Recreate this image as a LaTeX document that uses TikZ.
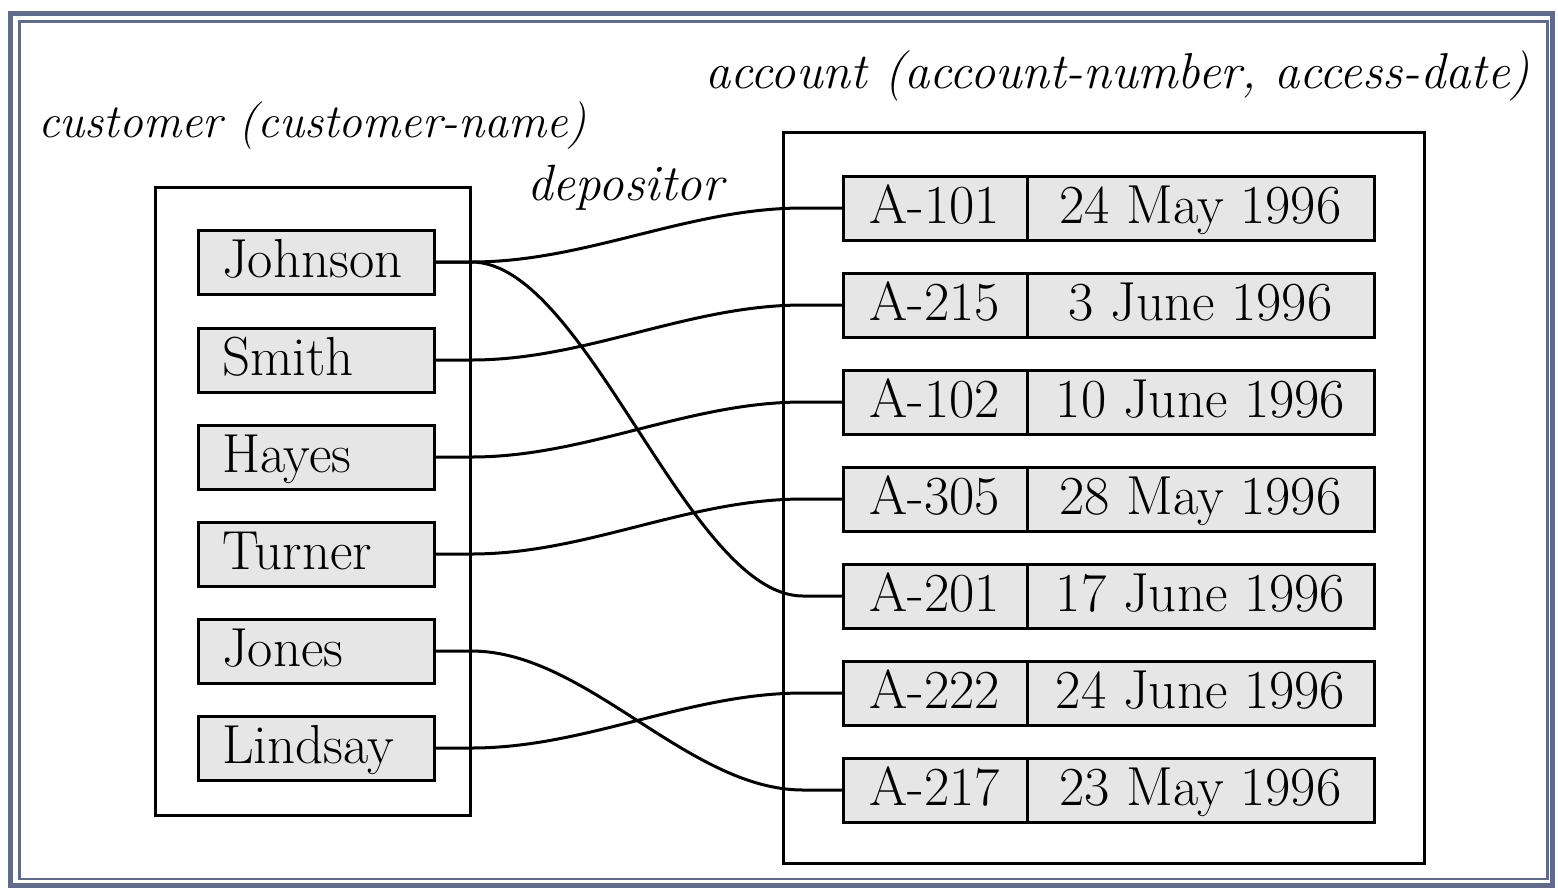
\documentclass[tikz,border=0pt]{standalone}
\usepackage{fontspec}
\usetikzlibrary{calc}
\definecolor{framec}{HTML}{626A8C}
\definecolor{boxfill}{HTML}{E6E6E6}
\begin{document}
\begin{tikzpicture}[x=0.5pt,y=-0.5pt,
  txt/.style={font=\fontsize{27.5}{30}\selectfont},
  namebox/.style={txt, draw, line width=1.5pt, fill=boxfill, minimum width=118pt,
    minimum height=32pt, inner xsep=12pt, inner ysep=0pt, text width=94pt, align=left,
    text height=19pt, text depth=4pt},
  cellbox/.style={txt, draw, line width=1.5pt, fill=boxfill, minimum height=32pt,
    inner sep=0pt, outer sep=0pt, text height=19pt, text depth=4pt},
  acell/.style={cellbox, minimum width=92pt},
  dcell/.style={cellbox, minimum width=173.5pt, anchor=west},
  outerbox/.style={draw, line width=1.5pt, inner sep=0pt},
  lbl/.style={inner sep=0pt, anchor=base west},
  conn/.style={line width=1.5pt}
]
\useasboundingbox (0,0) rectangle (1558,891);
% frame
\draw[framec, line width=2.5pt] (10,13.5) rectangle (1552.5,885);
\draw[framec, line width=1.25pt] (19.5,21.5) rectangle (1547.5,879);

% outer boxes
\node[outerbox, minimum width=157.5pt, minimum height=314pt] (custbox) at (312.5,501) {};
\node[outerbox, minimum width=320.5pt, minimum height=365.5pt] (accbox) at (1103.5,497.5) {};

% labels
\node[lbl, font=\fontsize{23.8}{28}\selectfont\itshape] (custlbl) at (38,137) {customer (customer-name)};
\node[lbl, font=\fontsize{25.2}{28}\selectfont\itshape] (acclbl) at (705,88) {account (account-number, access-date)};
\node[lbl, font=\fontsize{25.5}{28}\selectfont\itshape] (deplbl) at (527,200) {depositor};

% customers
\node[namebox] (johnson) at (316,262) {Johnson};
\node[namebox] (smith) at (316,360) {Smith};
\node[namebox] (hayes) at (316,457) {Hayes};
\node[namebox] (turner) at (316,554) {Turner};
\node[namebox] (jones) at (316,651) {Jones};
\node[namebox] (lindsay) at (316,748) {Lindsay};

% accounts
\node[acell] (a101) at (935,208) {A-101};
\node[dcell] (d101) at (a101.east) {24 May 1996};
\node[acell] (a215) at (935,305) {A-215};
\node[dcell] (d215) at (a215.east) {3 June 1996};
\node[acell] (a102) at (935,402) {A-102};
\node[dcell] (d102) at (a102.east) {10 June 1996};
\node[acell] (a305) at (935,499) {A-305};
\node[dcell] (d305) at (a305.east) {28 May 1996};
\node[acell] (a201) at (935,596) {A-201};
\node[dcell] (d201) at (a201.east) {17 June 1996};
\node[acell] (a222) at (935,693) {A-222};
\node[dcell] (d222) at (a222.east) {24 June 1996};
\node[acell] (a217) at (935,790) {A-217};
\node[dcell] (d217) at (a217.east) {23 May 1996};

% connectors
\foreach \c/\a in {johnson/a101, johnson/a201, smith/a215, hayes/a102, turner/a305, jones/a217, lindsay/a222}{
  \draw[conn] (\c.east) -- ($(\c.east)+(36,0)$)
    .. controls +(115,0) and +(-115,0) .. ($(\a.west)+(-40,0)$) -- (\a.west);
}
\end{tikzpicture}
\end{document}
